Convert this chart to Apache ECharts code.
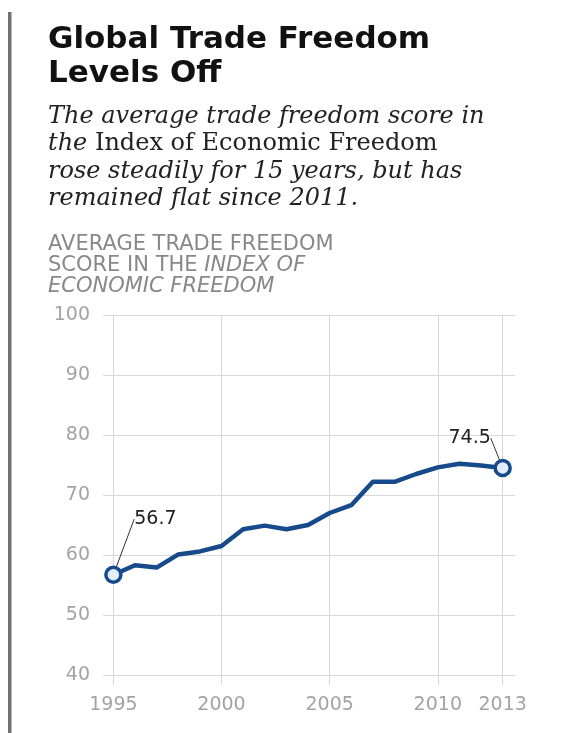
<!DOCTYPE html>
<html>
<head>
<meta charset="utf-8">
<style>
  html, body { margin: 0; padding: 0; background: #fff; }
  #chart { width: 561px; height: 733px; }
</style>
<script src="https://cdn.jsdelivr.net/npm/echarts@6/dist/echarts.min.js"></script>
</head>
<body>
<div id="chart"></div>
<script>
// average trade freedom score
const years = [1995, 1996, 1997, 1998, 1999, 2000, 2001, 2002, 2003, 2004,
               2005, 2006, 2007, 2008, 2009, 2010, 2011, 2012, 2013];
const scores = [56.7, 58.3, 57.9, 60.1, 60.6, 61.5, 64.3, 64.9, 64.3, 65.0,
                67.0, 68.3, 72.2, 72.2, 73.5, 74.6, 75.2, 74.9, 74.5];
const xTicks = [1995, 2000, 2005, 2010, 2013];
const labelled = [0, years.length - 1];

const lineBlue = '#174a8b';
const gridGray = '#d8d8d8';
const tickGray = '#a3a3a3';

var chart = echarts.init(document.getElementById('chart'));

const seriesData = years.map(function (y, i) {
    if (labelled.indexOf(i) < 0) return [y, scores[i]];
    return {
        value: [y, scores[i]],
        symbol: 'circle',
        symbolSize: 15,
        itemStyle: { color: '#e4eef9', borderColor: lineBlue, borderWidth: 3.5 },
        label: {
            show: true,
            formatter: function (p) { return p.value[1].toFixed(1); }
        }
    };
});

const option = {
    backgroundColor: '#fff',
    animation: false,
    title: [
        {
            text: 'Global Trade Freedom\nLevels Off',
            left: 48, top: 23, padding: 0,
            textStyle: {
                fontFamily: 'DejaVu Sans', fontWeight: 'bold',
                fontSize: 31, lineHeight: 34, color: '#111'
            }
        },
        {
            text: '{i|The average trade freedom score in}\n' +
                  '{i|the }{r|Index of Economic Freedom}\n' +
                  '{i|rose steadily for 15 years, but has}\n' +
                  '{i|remained flat since 2011.}',
            left: 48, top: 103, padding: 0,
            textStyle: {
                fontWeight: 'normal',
                rich: {
                    i: { fontFamily: 'DejaVu Serif', fontStyle: 'italic', fontWeight: 'normal', fontSize: 24, lineHeight: 27.5, color: '#222' },
                    r: { fontFamily: 'DejaVu Serif', fontWeight: 'normal', fontSize: 24, lineHeight: 27.5, color: '#222' }
                }
            }
        },
        {
            text: '{n|AVERAGE TRADE FREEDOM}\n' +
                  '{n|SCORE IN THE }{i|INDEX OF}\n' +
                  '{i|ECONOMIC FREEDOM}',
            left: 48, top: 234, padding: 0,
            textStyle: {
                fontWeight: 'normal',
                rich: {
                    n: { fontFamily: 'DejaVu Sans', fontWeight: 'normal', fontSize: 21, lineHeight: 21, color: '#888' },
                    i: { fontFamily: 'DejaVu Sans', fontStyle: 'italic', fontWeight: 'normal', fontSize: 21, lineHeight: 21, color: '#888' }
                }
            }
        }
    ],
    graphic: [{
        type: 'rect',
        shape: { x: 8, y: 12, width: 3.5, height: 721 },
        style: { fill: '#707070' }
    }],
    grid: { left: 103, right: 46, top: 315, bottom: 58 },
    xAxis: {
        type: 'value',
        min: 1994.52,
        max: 2013.57,
        axisLine: { show: false },
        axisTick: { show: true, length: 10, customValues: xTicks, lineStyle: { color: gridGray } },
        axisLabel: {
            customValues: xTicks, margin: 21,
            formatter: function (v) { return String(v); },
            color: tickGray, fontFamily: 'DejaVu Sans', fontSize: 19
        },
        splitLine: { show: true, lineStyle: { color: gridGray } }
    },
    yAxis: {
        type: 'value',
        min: 40, max: 100, interval: 10,
        axisLine: { show: false },
        axisTick: { show: false },
        axisLabel: { margin: 13, color: tickGray, fontFamily: 'DejaVu Sans', fontSize: 19 },
        splitLine: { lineStyle: { color: gridGray } }
    },
    series: [{
        type: 'line',
        data: seriesData,
        symbol: 'none',
        showSymbol: true,
        lineStyle: { color: lineBlue, width: 4.5 },
        label: {
            color: '#222', fontFamily: 'DejaVu Sans', fontSize: 19
        },
        labelLine: { show: true, lineStyle: { color: '#333', width: 1 } },
        labelLayout: function (p) {
            return p.dataIndex === 0 ? { dx: 42, dy: -32 } : { dx: -33, dy: -6 };
        },
        z: 3
    }]
};

chart.setOption(option);
</script>
</body>
</html>
